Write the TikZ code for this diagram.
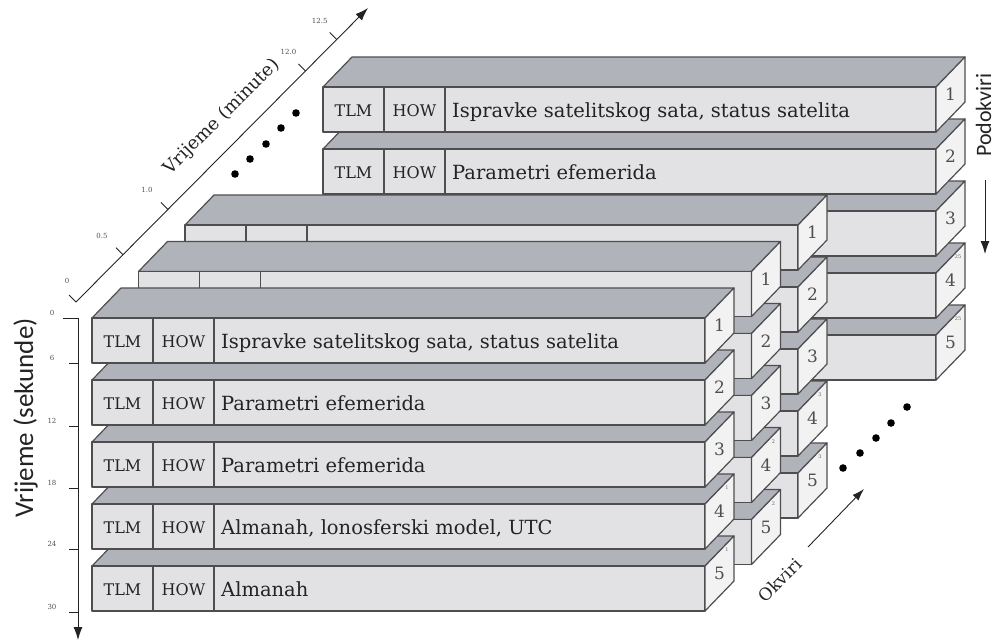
\documentclass[tikz,border=0pt]{standalone}
\usepackage{fontspec}
\setmainfont{DejaVu Serif}
\newfontfamily\labsans{Carlito}
\usetikzlibrary{arrows.meta,calc}
\definecolor{topc}{RGB}{177,179,187}
\definecolor{frontc}{RGB}{226,226,228}
\definecolor{sidec}{RGB}{242,242,242}
\definecolor{linec}{RGB}{78,78,80}
\definecolor{txtc}{RGB}{35,35,35}
\def\rw{613}
\def\rh{45}
\def\dx{29}
\def\dy{30}
\tikzset{
  facestyle/.style={draw=linec, line width=1.2pt, line join=round},
  topface/.style={facestyle, fill=topc},
  frontface/.style={facestyle, fill=frontc},
  sideface/.style={facestyle, fill=sidec},
  celltext/.style={font=\fontsize{16}{17}\selectfont, text=txtc, inner sep=0pt},
  maintext/.style={font=\fontsize{19.5}{20}\selectfont, text=txtc, inner sep=0pt},
  sidenum/.style={font=\fontsize{17}{17}\selectfont, text=txtc!80, inner sep=0pt},
  supnum/.style={font=\fontsize{5}{5}\selectfont, text=txtc!70, inner sep=0pt},
  ticklab/.style={font=\fontsize{7}{7}\selectfont, text=txtc!80, inner sep=0pt},
  axisline/.style={draw=txtc, line width=0.9pt},
  axisarrow/.style={axisline, -{Latex[length=13pt,width=9pt]}},
  dotmark/.style={fill=black},
}
\newcommand\gpsrow[5]{% X, Y, name, number, superscript
  \filldraw[topface] (#1,#2) -- ++(\rw,0) -- ++(\dx,-\dy) -- ++(-\rw,0) -- cycle;
  \filldraw[frontface] (#1,#2) rectangle ++(\rw,\rh);
  \filldraw[sideface] ({#1+\rw},#2) -- ++(\dx,-\dy) -- ++(0,\rh) -- ++(-\dx,\dy) -- cycle;
  \draw[facestyle] ({#1+61},#2) -- ++(0,\rh) ({#1+122},#2) -- ++(0,\rh);
  \node[sidenum] (#3n) at ({#1+\rw+\dx/2},{#2+\rh/2-\dy/2}) {#4};
  \node[supnum] (#3s) at ({#1+\rw+\dx-7},{#2-\dy+14}) {#5};
}
\newcommand\gpslabels[4]{% X, Y, name, text
  \node[celltext,anchor=base] (#3tlm) at ({#1+30.5},{#2+29}) {TLM};
  \node[celltext,anchor=base] (#3how) at ({#1+91.5},{#2+29}) {HOW};
  \node[maintext,anchor=base west] (#3txt) at ({#1+129},{#2+30}) {#4};
}
\begin{document}
\begin{tikzpicture}[x=1pt,y=-1pt]
\useasboundingbox (0,0) rectangle (995,643);

% frames, back to front
\foreach \off/\fid/\sup in {231/f25/25, 93/f3/3, 46.5/f2/2, 0/f1/1} {
  \foreach \r in {5,4,3,2,1} {
    \pgfmathsetmacro\X{92+\off}
    \pgfmathsetmacro\Y{318-\off+(\r-1)*62}
    \ifnum\r>3 \edef\s{\sup}\else\def\s{}\fi
    \gpsrow{\X}{\Y}{\fid r\r}{\r}{\s}
  }
}

% texts
\gpslabels{323}{87}{f25r1}{Ispravke satelitskog sata, status satelita}
\gpslabels{323}{149}{f25r2}{Parametri efemerida}
\gpslabels{92}{318}{f1r1}{Ispravke satelitskog sata, status satelita}
\gpslabels{92}{380}{f1r2}{Parametri efemerida}
\gpslabels{92}{442}{f1r3}{Parametri efemerida}
\gpslabels{92}{504}{f1r4}{Almanah, lonosferski model, UTC}
\gpslabels{92}{566}{f1r5}{Almanah}

% time axis (minutes)
\coordinate (m0) at (76,302);
\coordinate (m1) at (368,8);
\draw[axisarrow] (m0) -- (m1);
\foreach \t/\lab/\nm/\ox/\oy in {0/0/a/-9/-21, 0.161/0.5/b/-21/-19, 0.315/1.0/c/-21/-19, 0.786/12.0/d/-17/-19, 0.893/12.5/e/-17/-19} {
  \coordinate (mt\nm) at ($(m0)!\t!(m1)$);
  \draw[axisline] (mt\nm) -- ++(-7,-7);
  \node[ticklab] (ml\nm) at ($(mt\nm)+(\ox,\oy)$) {\lab};
}
\node[font=\fontsize{18}{18}\selectfont, text=txtc, rotate=45] (mlabel) at (222,117) {Vrijeme (minute)};

% time axis (seconds)
\coordinate (s0) at (78,318);
\coordinate (s1) at (78,640);
\draw[axisarrow] (s0) -- (s1);
\draw[axisline] (s0) -- ++(-15,0);
\foreach \yy/\lab/\nm in {363/6/b, 426/12/c, 488/18/d, 549/24/e, 612/30/f} {
  \coordinate (st\nm) at (78,\yy);
  \draw[axisline] (st\nm) -- ++(-9,0);
  \node[ticklab] (sl\nm) at (52,{\yy-5}) {\lab};
}
\node[ticklab] (sla) at (52,313) {0};
\node[font=\labsans\fontsize{27}{27}\selectfont, text=txtc, rotate=90, anchor=base] (slabel) at (33,418) {Vrijeme (sekunde)};

% dots
\foreach \px/\py in {235/174, 250/159, 266/144, 281/128, 296/113, 843/468, 860/453, 876/438, 891/423, 907/407}
  \fill[dotmark] (\px,\py) circle (3.8);

% Okviri
\coordinate (o0) at (808,547);
\coordinate (o1) at (864,489);
\draw[axisline, -{Latex[length=12pt,width=8pt]}] (o0) -- (o1);
\node[font=\fontsize{17}{17}\selectfont, text=txtc, rotate=45] (olabel) at (780,580) {Okviri};

% Podokviri
\node[font=\labsans\fontsize{22}{22}\selectfont, text=txtc, rotate=90, anchor=base] (plabel) at (991,115) {Podokviri};
\coordinate (p0) at (985,180);
\coordinate (p1) at (985,254);
\draw[axisline, -{Latex[length=13pt,width=9pt]}] (p0) -- (p1);
\end{tikzpicture}
\end{document}
